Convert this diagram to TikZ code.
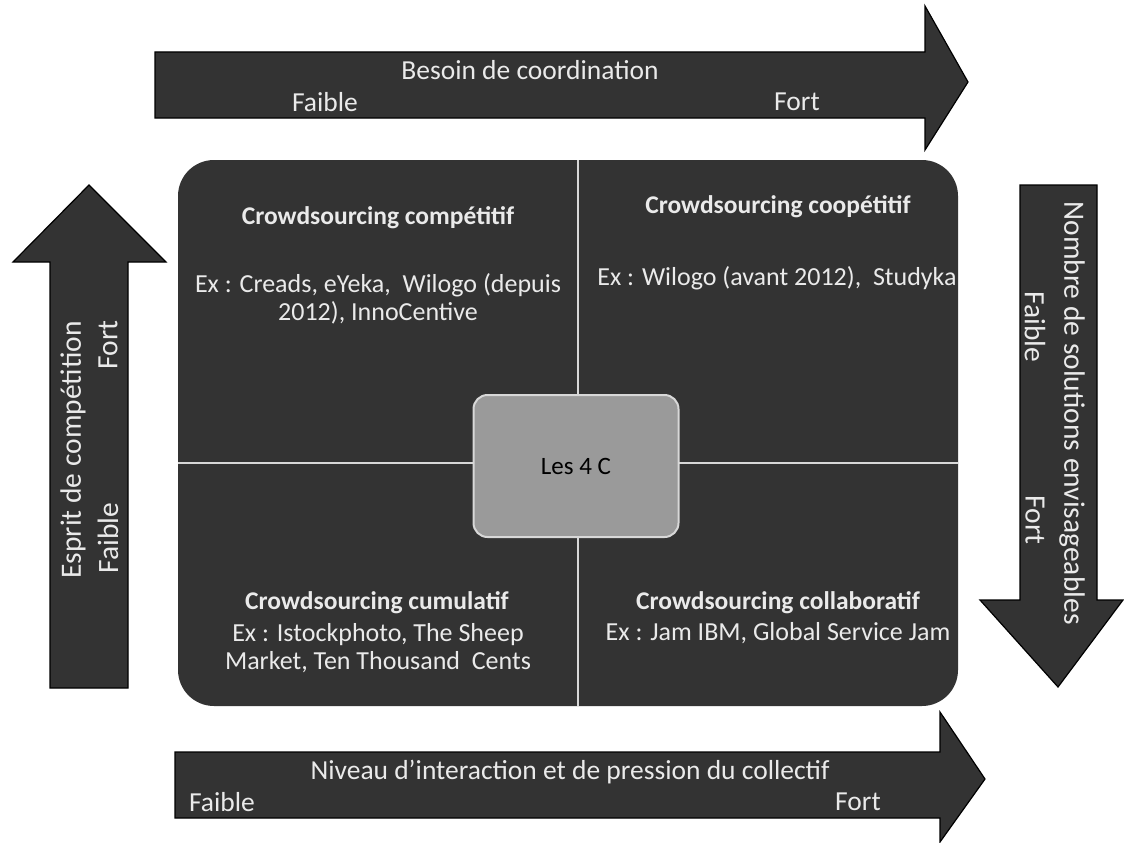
\documentclass[tikz,border=0pt]{standalone}
\usepackage{fontspec}
\setmainfont{Carlito}
\begin{document}
\begin{tikzpicture}[x=1pt,y=-1pt]
\definecolor{dk}{HTML}{333333}
\definecolor{txt}{HTML}{EAEAEA}
\definecolor{mid}{HTML}{9A9A9A}
\definecolor{divi}{HTML}{D8D8D8}
\tikzset{
  arrowshape/.style={fill=dk, draw=black, line width=1.2pt, line join=miter},
  axislabel/.style={text=txt, font=\fontsize{27.5}{30}\selectfont, inner sep=0pt},
  vaxislabel/.style={text=txt, font=\fontsize{29.5}{30}\selectfont, inner sep=0pt},
  qtitle/.style={text=txt, font=\bfseries\fontsize{25.5}{28}\selectfont, inner sep=0pt},
  qtext/.style={text=txt, font=\fontsize{26}{28.5}\selectfont, align=center, inner sep=0pt},
}
\useasboundingbox (0,0) rectangle (1124,843);
\fill[white] (0,0) rectangle (1124,843);

% top arrow
\draw[arrowshape] (155,52) -- (925,52) -- (925,6) -- (968,82) -- (925,150) -- (925,118) -- (155,118) -- cycle;
\node[axislabel] (tl) at (530,70) {Besoin de coordination};
\node[axislabel] (tfa) at (325,102) {Faible};
\node[axislabel] (tfo) at (797,102) {Fort};

% bottom arrow
\draw[arrowshape] (175,752) -- (940,752) -- (940,712) -- (985,779) -- (940,842) -- (940,818) -- (175,818) -- cycle;
\node[axislabel] (bl) at (570,772) {Niveau d’interaction et de pression du collectif};
\node[axislabel] (bfa) at (222,802) {Faible};
\node[axislabel] (bfo) at (858,802) {Fort};

% left arrow
\draw[arrowshape] (50,688) -- (50,262) -- (13,262) -- (89,185) -- (166,262) -- (128,262) -- (128,688) -- cycle;
\node[vaxislabel, rotate=90] (ll) at (73,450) {Esprit de compétition};
\node[vaxislabel, rotate=90] (lfo) at (108,345) {Fort};
\node[vaxislabel, rotate=90] (lfa) at (108,538) {Faible};

% right arrow
\draw[arrowshape] (1020,185) -- (1097,185) -- (1097,600) -- (1123,600) -- (1058,687) -- (980,600) -- (1020,600) -- cycle;
\node[vaxislabel, rotate=-90] (rl) at (1072,413) {Nombre de solutions envisageables};
\node[vaxislabel, rotate=-90] (rfa) at (1035,327) {Faible};
\node[vaxislabel, rotate=-90] (rfo) at (1035,520) {Fort};

% main box
\fill[dk] (178,160) [rounded corners=36pt] rectangle (958,706);
\draw[divi, line width=2.5pt] (578,160) -- (578,706);
\draw[divi, line width=2.5pt] (178,463) -- (958,463);

% center box
\node[draw=divi, fill=mid, line width=2pt, rounded corners=14pt, minimum width=205pt, minimum height=142pt, inner sep=0pt,
  font=\fontsize{25}{28}\selectfont, text=black] (c) at (576,466) {Les 4 C};

% quadrant texts
\node[qtitle] (q1) at (378,218) {Crowdsourcing compétitif};
\node[qtext] (q1t) at (378,299) {Ex : Creads, eYeka,\ \ Wilogo (depuis\\2012), InnoCentive};
\node[qtitle] (q2) at (778,207) {Crowdsourcing coopétitif};
\node[qtext] (q2t) at (777,278) {Ex : Wilogo (avant 2012),\ \ Studyka};
\node[qtitle] (q3) at (377,603) {Crowdsourcing cumulatif};
\node[qtext] (q3t) at (378,648) {Ex : Istockphoto, The Sheep\\Market, Ten Thousand\ \ Cents};
\node[qtitle] (q4) at (778,603) {Crowdsourcing collaboratif};
\node[qtext] (q4t) at (778,633) {Ex : Jam IBM, Global Service Jam};
\end{tikzpicture}
\end{document}
